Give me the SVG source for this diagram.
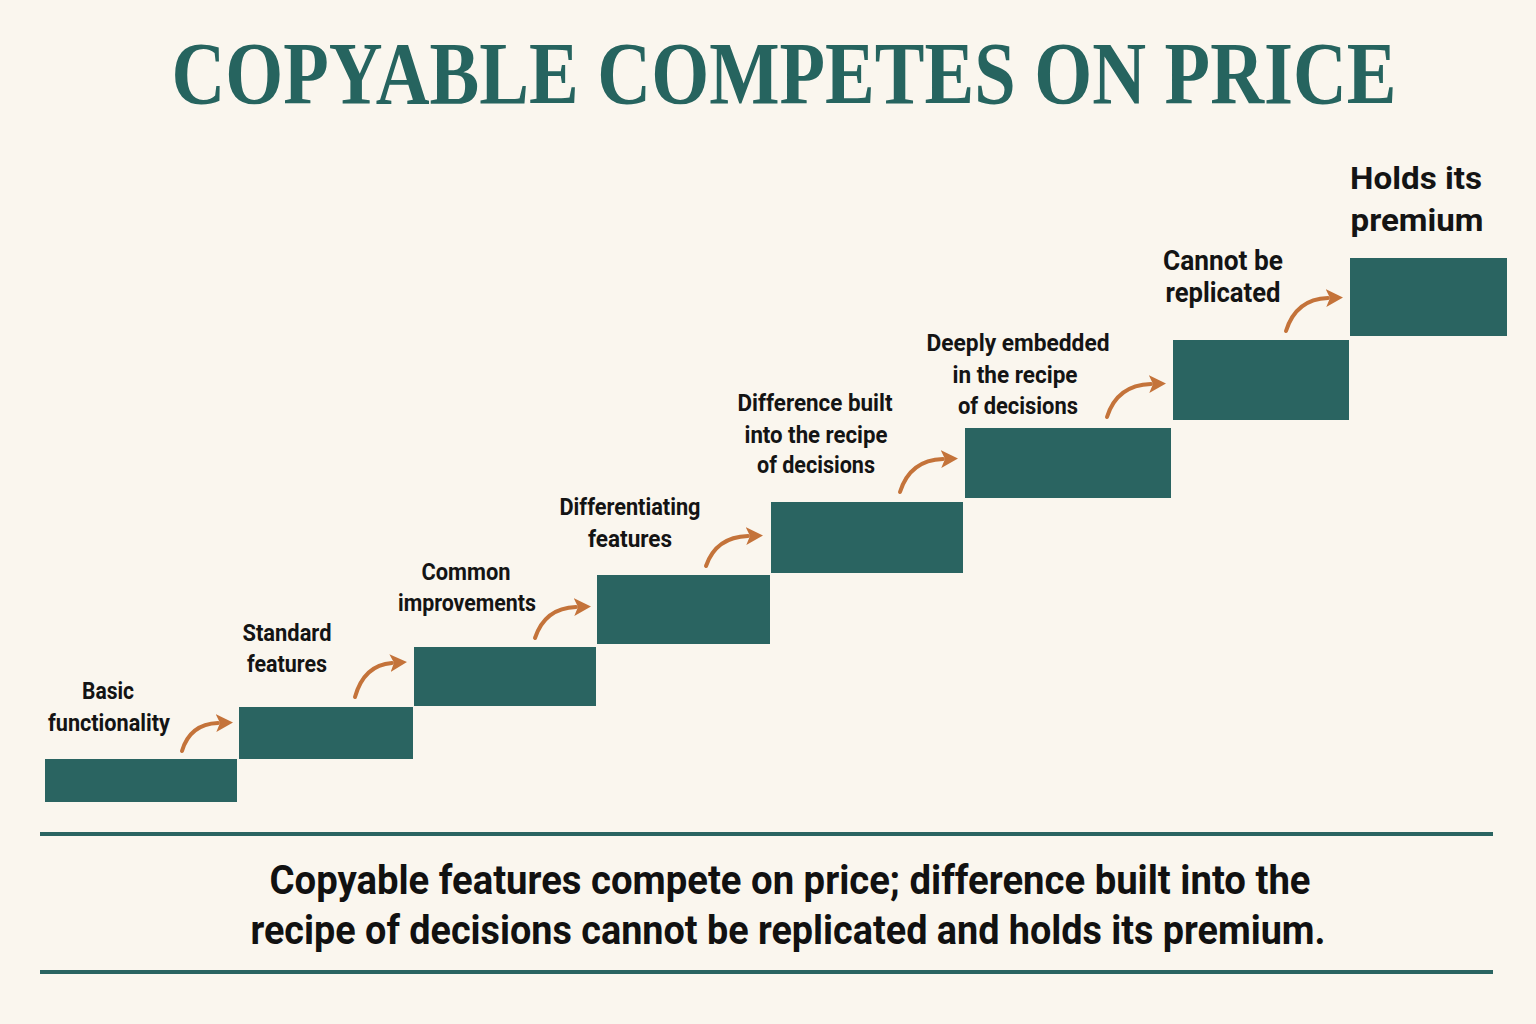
<svg xmlns="http://www.w3.org/2000/svg" width="1536" height="1024" viewBox="0 0 1536 1024">
<defs>
<style>
.step{fill:#2a6461}
.lbl{font-family:Roboto,"Liberation Sans",sans-serif;font-weight:700;font-size:24px;fill:#141414;text-anchor:middle}
.lbl.md{font-size:27px}
.lbl.lg{font-size:32px}
.arr{fill:none;stroke:#c4733a;stroke-width:4;stroke-linecap:round;marker-end:url(#ah)}
.rule{stroke:#2a6461;stroke-width:4}
.sum{font-family:Roboto,"Liberation Sans",sans-serif;font-weight:700;font-size:40px;fill:#111;text-anchor:middle}
</style>
<marker id="ah" markerUnits="userSpaceOnUse" markerWidth="20" markerHeight="20" refX="2" refY="9" orient="auto" viewBox="0 0 20 18">
<path d="M0,0 L17,9 L0,18 L4,9 z" fill="#c4733a"/>
</marker>
</defs>
<rect width="1536" height="1024" fill="#faf6ee"/>
<text transform="translate(784,103) scale(1,1.12)" x="0" y="0" font-family="'Liberation Serif',serif" font-weight="700" font-size="79" fill="#26645f" text-anchor="middle" textLength="1225" lengthAdjust="spacingAndGlyphs">COPYABLE COMPETES ON PRICE</text>

<g id="step1"><rect class="step" x="45" y="759" width="192" height="43"/>
<text class="lbl" x="108" y="699" textLength="52" lengthAdjust="spacingAndGlyphs">Basic</text>
<text class="lbl" x="109" y="731" textLength="122" lengthAdjust="spacingAndGlyphs">functionality</text></g>

<g id="step2"><rect class="step" x="239" y="707" width="174" height="52"/>
<text class="lbl" x="287" y="641" textLength="89" lengthAdjust="spacingAndGlyphs">Standard</text>
<text class="lbl" x="287" y="672" textLength="80" lengthAdjust="spacingAndGlyphs">features</text></g>

<g id="step3"><rect class="step" x="414" y="647" width="182" height="59"/>
<text class="lbl" x="466" y="580" textLength="89" lengthAdjust="spacingAndGlyphs">Common</text>
<text class="lbl" x="467" y="611" textLength="138" lengthAdjust="spacingAndGlyphs">improvements</text></g>

<g id="step4"><rect class="step" x="597" y="575" width="173" height="69"/>
<text class="lbl" x="630" y="515" textLength="141" lengthAdjust="spacingAndGlyphs">Differentiating</text>
<text class="lbl" x="630" y="547" textLength="84" lengthAdjust="spacingAndGlyphs">features</text></g>

<g id="step5"><rect class="step" x="771" y="502" width="192" height="71"/>
<text class="lbl" x="815" y="411" textLength="155" lengthAdjust="spacingAndGlyphs">Difference built</text>
<text class="lbl" x="816" y="443" textLength="143" lengthAdjust="spacingAndGlyphs">into the recipe</text>
<text class="lbl" x="816" y="473" textLength="118" lengthAdjust="spacingAndGlyphs">of decisions</text></g>

<g id="step6"><rect class="step" x="965" y="428" width="206" height="70"/>
<text class="lbl" x="1018" y="351" textLength="183" lengthAdjust="spacingAndGlyphs">Deeply embedded</text>
<text class="lbl" x="1015" y="383" textLength="125" lengthAdjust="spacingAndGlyphs">in the recipe</text>
<text class="lbl" x="1018" y="414" textLength="120" lengthAdjust="spacingAndGlyphs">of decisions</text></g>

<g id="step7"><rect class="step" x="1173" y="340" width="176" height="80"/>
<text class="lbl md" x="1223" y="270" textLength="120" lengthAdjust="spacingAndGlyphs">Cannot be</text>
<text class="lbl md" x="1223" y="302" textLength="115" lengthAdjust="spacingAndGlyphs">replicated</text></g>

<g id="step8"><rect class="step" x="1350" y="258" width="157" height="78"/>
<text class="lbl lg" x="1416" y="189" textLength="132" lengthAdjust="spacingAndGlyphs">Holds its</text>
<text class="lbl lg" x="1417" y="231" textLength="133" lengthAdjust="spacingAndGlyphs">premium</text></g>

<g id="connectors">
<path class="arr" d="M182,751 Q190,724 218,723"/>
<path class="arr" d="M355,697 Q364,665 392,663"/>
<path class="arr" d="M535,638 Q545,608 576,607"/>
<path class="arr" d="M706,566 Q716,537 748,536"/>
<path class="arr" d="M900,492 Q910,460 943,459"/>
<path class="arr" d="M1107,417 Q1117,385 1151,384"/>
<path class="arr" d="M1286,331 Q1296,299 1328,298"/>
</g>

<line class="rule" x1="40" y1="834" x2="1493" y2="834"/>
<text class="sum" x="790" y="894" textLength="1041" lengthAdjust="spacingAndGlyphs">Copyable features compete on price; difference built into the</text>
<text class="sum" x="788" y="944" textLength="1075" lengthAdjust="spacingAndGlyphs">recipe of decisions cannot be replicated and holds its premium.</text>
<line class="rule" x1="40" y1="972" x2="1493" y2="972"/>
</svg>
